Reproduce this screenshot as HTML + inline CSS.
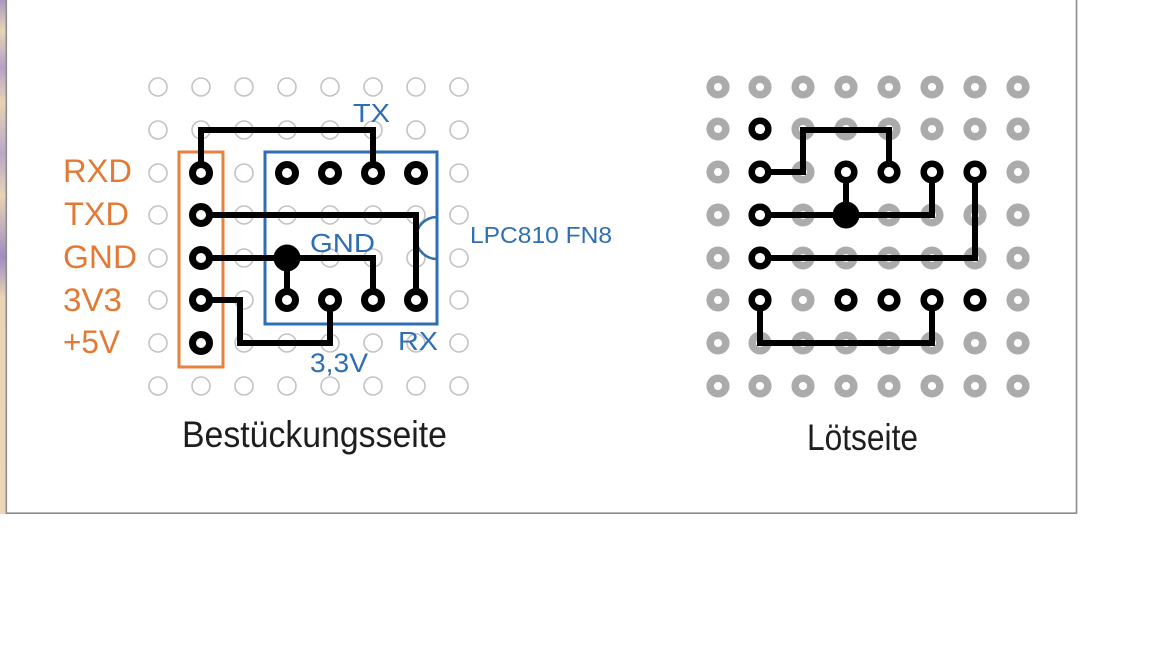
<!DOCTYPE html>
<html>
<head>
<meta charset="utf-8">
<style>
html,body{margin:0;padding:0;background:#fff;}
svg{display:block;}
</style>
</head>
<body>
<svg width="1152" height="648" viewBox="0 0 1152 648" xmlns="http://www.w3.org/2000/svg">
<defs>
<linearGradient id="strip" x1="0" y1="0" x2="0" y2="1">
<stop offset="0" stop-color="#a89ac0"/>
<stop offset="0.06" stop-color="#e9d3b6"/>
<stop offset="0.13" stop-color="#b3a2c6"/>
<stop offset="0.2" stop-color="#e9d3b6"/>
<stop offset="0.3" stop-color="#b8a8c8"/>
<stop offset="0.38" stop-color="#e9d3b6"/>
<stop offset="0.5" stop-color="#9e8fc0"/>
<stop offset="0.58" stop-color="#e9d3b6"/>
<stop offset="1" stop-color="#ecd6b8"/>
</linearGradient>
<g id="lrow">
<circle cx="158" cy="0" r="9"/><circle cx="201" cy="0" r="9"/><circle cx="244" cy="0" r="9"/><circle cx="287" cy="0" r="9"/><circle cx="330" cy="0" r="9"/><circle cx="373" cy="0" r="9"/><circle cx="416" cy="0" r="9"/><circle cx="459" cy="0" r="9"/>
</g>
<g id="rrow">
<circle cx="718" cy="0" r="7.8"/><circle cx="760" cy="0" r="7.8"/><circle cx="803" cy="0" r="7.8"/><circle cx="846" cy="0" r="7.8"/><circle cx="889" cy="0" r="7.8"/><circle cx="932" cy="0" r="7.8"/><circle cx="975" cy="0" r="7.8"/><circle cx="1018" cy="0" r="7.8"/>
</g>
</defs>
<rect x="0" y="0" width="1152" height="648" fill="#fff"/>
<rect x="0" y="0" width="5.5" height="514" fill="url(#strip)"/>
<!-- panel border -->
<path d="M6.3 0 V513.2 H1076.5 V0" fill="none" stroke="#8c8c8c" stroke-width="1.6"/>

<!-- LEFT GRID -->
<g fill="none" stroke="#c3c3c3" stroke-width="1.6">
<use href="#lrow" y="87"/><use href="#lrow" y="130"/><use href="#lrow" y="173"/><use href="#lrow" y="215"/><use href="#lrow" y="258"/><use href="#lrow" y="300"/><use href="#lrow" y="343"/><use href="#lrow" y="386"/>
</g>

<!-- orange header rect -->
<rect x="179" y="152" width="44" height="215" fill="none" stroke="#e5823f" stroke-width="3"/>
<!-- blue chip rect -->
<rect x="265" y="152" width="172" height="172" fill="none" stroke="#2e6fb3" stroke-width="3"/>
<path d="M437 217 A21 21 0 0 0 437 259" fill="none" stroke="#2e6fb3" stroke-width="2.5"/>

<!-- left traces -->
<g fill="none" stroke="#000" stroke-width="6" stroke-linejoin="miter" stroke-linecap="butt">
<path d="M201 173 V130 H373 V173"/>
<path d="M201 215 H416 V300"/>
<path d="M201 258 H373 V300"/>
<path d="M287 258 V300"/>
<path d="M201 300 H240 V343 H330 V300"/>
</g>
<circle cx="287" cy="258" r="13.5" fill="#000"/>
<g fill="#fff" stroke="#000" stroke-width="7">
<circle cx="201" cy="173" r="8.5"/><circle cx="201" cy="215" r="8.5"/><circle cx="201" cy="258" r="8.5"/><circle cx="201" cy="300" r="8.5"/><circle cx="201" cy="343" r="8.5"/>
<circle cx="287" cy="173" r="8.5"/><circle cx="330" cy="173" r="8.5"/><circle cx="373" cy="173" r="8.5"/><circle cx="416" cy="173" r="8.5"/>
<circle cx="287" cy="300" r="8.5"/><circle cx="330" cy="300" r="8.5"/><circle cx="373" cy="300" r="8.5"/><circle cx="416" cy="300" r="8.5"/>
</g>

<!-- orange labels -->
<g font-family="Liberation Sans, Arial, sans-serif" font-size="32" fill="#e27a36">
<text x="63" y="182" textLength="69" lengthAdjust="spacingAndGlyphs">RXD</text>
<text x="64" y="225" textLength="65" lengthAdjust="spacingAndGlyphs">TXD</text>
<text x="63" y="268" textLength="74" lengthAdjust="spacingAndGlyphs">GND</text>
<text x="63" y="311" textLength="59" lengthAdjust="spacingAndGlyphs">3V3</text>
<text x="63" y="353" textLength="57" lengthAdjust="spacingAndGlyphs">+5V</text>
</g>

<!-- blue labels -->
<g font-family="Liberation Sans, Arial, sans-serif" fill="#2e6fb3">
<text x="353" y="122" font-size="26" textLength="37" lengthAdjust="spacingAndGlyphs">TX</text>
<text x="310" y="252" font-size="26" textLength="65" lengthAdjust="spacingAndGlyphs">GND</text>
<text x="470" y="243" font-size="23" textLength="142" lengthAdjust="spacingAndGlyphs">LPC810 FN8</text>
<text x="398" y="350" font-size="26" textLength="40" lengthAdjust="spacingAndGlyphs">RX</text>
<text x="310" y="372" font-size="27" textLength="58" lengthAdjust="spacingAndGlyphs">3,3V</text>
</g>

<!-- RIGHT GRID -->
<g fill="#fff" stroke="#ababab" stroke-width="7.5">
<use href="#rrow" y="87"/><use href="#rrow" y="129"/><use href="#rrow" y="172"/><use href="#rrow" y="215"/><use href="#rrow" y="258"/><use href="#rrow" y="300"/><use href="#rrow" y="343"/><use href="#rrow" y="386"/>
</g>

<!-- right traces -->
<g fill="none" stroke="#000" stroke-width="6" stroke-linejoin="miter">
<path d="M760 172 H803 V130 H889 V172"/>
<path d="M760 215 H932 V172"/>
<path d="M846 215 V172"/>
<path d="M760 258 H975 V172"/>
<path d="M760 300 V343 H932 V300"/>
</g>
<circle cx="846" cy="215" r="13.5" fill="#000"/>
<g fill="#fff" stroke="#000" stroke-width="6.5">
<circle cx="760" cy="129" r="8.3"/><circle cx="760" cy="172" r="8.3"/><circle cx="760" cy="215" r="8.3"/><circle cx="760" cy="258" r="8.3"/><circle cx="760" cy="300" r="8.3"/>
<circle cx="846" cy="172" r="8.3"/><circle cx="889" cy="172" r="8.3"/><circle cx="932" cy="172" r="8.3"/><circle cx="975" cy="172" r="8.3"/>
<circle cx="846" cy="300" r="8.3"/><circle cx="889" cy="300" r="8.3"/><circle cx="932" cy="300" r="8.3"/><circle cx="975" cy="300" r="8.3"/>
</g>

<!-- captions -->
<g font-family="Liberation Sans, Arial, sans-serif" font-size="37" fill="#1e1e1e">
<text x="182" y="447" textLength="265" lengthAdjust="spacingAndGlyphs">Bestückungsseite</text>
<text x="807" y="450" textLength="111" lengthAdjust="spacingAndGlyphs">Lötseite</text>
</g>
</svg>
</body>
</html>
